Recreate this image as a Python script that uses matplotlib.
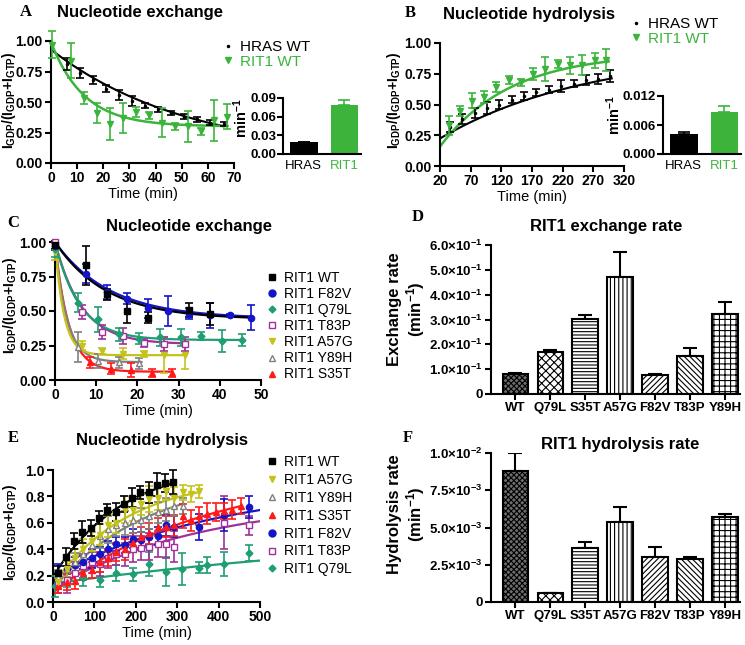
import numpy as np
import matplotlib.pyplot as plt
from matplotlib.lines import Line2D

plt.rcParams['font.family'] = ['Liberation Sans', 'DejaVu Sans']
plt.rcParams['font.weight'] = 'bold'
plt.rcParams['mathtext.fontset'] = 'custom'
plt.rcParams['mathtext.rm'] = 'Liberation Sans'
plt.rcParams['mathtext.bf'] = 'Liberation Sans:bold'
plt.rcParams['mathtext.default'] = 'bf'
plt.rcParams['hatch.linewidth'] = 0.8

# ---------------- data ----------------
GREEN = '#3cb43c'

# A: nucleotide exchange, HRAS vs RIT1
a_hras_t = [6, 11, 16, 21, 26, 31, 36, 41, 46, 51, 56, 61, 66]
a_hras_y = [0.81, 0.74, 0.68, 0.61, 0.56, 0.51, 0.47, 0.44, 0.41, 0.38, 0.36, 0.33, 0.32]
a_hras_e = [0.05, 0.04, 0.03, 0.03, 0.04, 0.04, 0.02, 0.02, 0.02, 0.02, 0.02, 0.02, 0.02]
a_rit_t = [0.5, 7.5, 12.5, 17.5, 22.5, 27.5, 32.5, 37.5, 42.5, 47.5, 52.5, 57.5, 62.5, 67.5]
a_rit_y = [0.97, 0.84, 0.53, 0.41, 0.32, 0.37, 0.42, 0.39, 0.33, 0.30, 0.30, 0.26, 0.35, 0.38]
a_rit_e = [0.11, 0.14, 0.05, 0.08, 0.13, 0.12, 0.04, 0.03, 0.12, 0.03, 0.13, 0.03, 0.17, 0.10]
# fits: start, plateau, rate, tmin, tmax
a_fit_hras = (0.93, 0.05, 0.019, 0, 66)
a_fit_rit = (0.99, 0.30, 0.079, 0, 67.5)
a_rate = [0.019, 0.079]
a_rate_err = [0.001, 0.007]

# B: nucleotide hydrolysis, HRAS vs RIT1
b_hras_t = [36, 56, 77, 97, 117, 138, 157, 177, 198, 218, 238, 258, 278, 297]
b_hras_y = [0.32, 0.38, 0.43, 0.47, 0.50, 0.54, 0.57, 0.60, 0.62, 0.65, 0.67, 0.70, 0.71, 0.73]
b_hras_e = [0.04, 0.04, 0.04, 0.05, 0.04, 0.03, 0.03, 0.03, 0.03, 0.05, 0.03, 0.04, 0.04, 0.05]
b_rit_t = [34, 53, 72, 92, 112, 132, 152, 172, 192, 213, 232, 252, 272, 291]
b_rit_y = [0.33, 0.45, 0.53, 0.56, 0.64, 0.70, 0.68, 0.75, 0.79, 0.83, 0.82, 0.82, 0.86, 0.86]
b_rit_e = [0.08, 0.04, 0.06, 0.05, 0.04, 0.03, 0.03, 0.05, 0.10, 0.03, 0.07, 0.08, 0.06, 0.09]
b_fit_hras = (0.224, 0.939, 0.0041, 20, 300)
b_fit_rit = (0.158, 0.92, 0.0087, 20, 295)
b_rate = [0.0041, 0.0087]
b_rate_err = [0.0005, 0.0013]

# C: nucleotide exchange of RIT1 mutants
c_names = ['WT', 'F82V', 'Q79L', 'T83P', 'A57G', 'Y89H', 'S35T']
c_t = {'WT': [0, 7.5, 12.5, 17.5, 22.5, 32.5, 37.5],
       'F82V': [0, 7.5, 12.5, 17.5, 22.5, 27.5, 32.5, 37.5, 42.5, 47.5],
       'Q79L': [0, 5.5, 10.5, 15.5, 20.5, 25.5, 30.5, 35.5, 40.5, 45.5],
       'T83P': [0, 6.5, 11.5, 16.5, 21.5, 26.5, 31.5],
       'A57G': [0, 6.5, 11.5, 16.5, 21.5, 26.5, 31.5],
       'Y89H': [0, 5.5, 10.5, 15.5, 20.5],
       'S35T': [8.5, 13.5, 18.5, 23.5, 28.5]}
c_y = {'WT': [0.98, 0.83, 0.62, 0.50, 0.45, 0.51, 0.48],
       'F82V': [0.97, 0.77, 0.64, 0.59, 0.52, 0.50, 0.48, 0.47, 0.47, 0.45],
       'Q79L': [0.95, 0.56, 0.44, 0.33, 0.30, 0.31, 0.31, 0.32, 0.28, 0.29],
       'T83P': [1.0, 0.49, 0.35, 0.32, 0.27, 0.26, 0.26],
       'A57G': [0.93, 0.25, 0.21, 0.19, 0.19, 0.18, 0.18],
       'Y89H': [0.97, 0.24, 0.14, 0.13, 0.12],
       'S35T': [0.13, 0.08, 0.07, 0.05, 0.05]}
c_e = {'WT': [0.03, 0.14, 0.04, 0.09, 0.04, 0.05, 0.08],
       'F82V': [0.03, 0.07, 0.05, 0.04, 0.07, 0.11, 0.04, 0.09, 0.01, 0.09],
       'Q79L': [0.06, 0.07, 0.09, 0.05, 0.04, 0.06, 0.06, 0.03, 0.08, 0.04],
       'T83P': [0.01, 0.05, 0.05, 0.06, 0.03, 0.05, 0.05],
       'A57G': [0.06, 0.03, 0.02, 0.04, 0.02, 0.13, 0.10],
       'Y89H': [0.03, 0.11, 0.05, 0.04, 0.04],
       'S35T': [0.04, 0.04, 0.05, 0.03, 0.03]}
# plateau, rate, tmax (start = 1.0)
c_fit = {'WT': (0.44, 0.08, 47.5), 'F82V': (0.445, 0.075, 47.5),
         'Q79L': (0.29, 0.17, 45.5), 'T83P': (0.26, 0.155, 31.5),
         'A57G': (0.18, 0.47, 31.5), 'Y89H': (0.13, 0.35, 21),
         'S35T': (0.06, 0.30, 28.5)}

# E: nucleotide hydrolysis of RIT1 mutants
e_names = ['WT', 'A57G', 'Y89H', 'S35T', 'F82V', 'T83P', 'Q79L']
e_t = {'WT': [11, 31, 51, 71, 91, 111, 131, 151, 171, 191, 211, 231, 251, 271, 291],
       'A57G': [13, 33, 53, 73, 93, 113, 133, 153, 173, 193, 213, 233, 253, 273, 293, 313, 333, 353],
       'Y89H': [13, 33, 53, 73, 93, 113, 133, 153, 173, 193, 213, 233, 253, 273, 293, 313],
       'S35T': [13, 33, 53, 73, 93, 113, 133, 153, 173, 193, 213, 233, 253, 273, 293, 313,
                333, 353, 373, 393, 413, 433, 453],
       'F82V': [13, 33, 53, 73, 93, 113, 133, 153, 173, 193, 213, 233, 253, 273, 293, 353, 413, 473],
       'T83P': [13, 33, 53, 73, 93, 113, 133, 153, 173, 193, 213, 233, 253, 273, 293, 413, 473],
       'Q79L': [4, 33, 73, 113, 152, 194, 232, 272, 312, 353, 373, 413, 473]}
e_y = {'WT': [0.22, 0.34, 0.46, 0.53, 0.56, 0.64, 0.70, 0.68, 0.74, 0.79, 0.83, 0.83, 0.89, 0.90, 0.91],
       'A57G': [0.15, 0.25, 0.33, 0.40, 0.46, 0.51, 0.58, 0.60, 0.70, 0.70, 0.74, 0.78, 0.79, 0.84,
                0.79, 0.83, 0.82, 0.84],
       'Y89H': [0.19, 0.25, 0.30, 0.36, 0.43, 0.50, 0.55, 0.58, 0.60, 0.62, 0.62, 0.65, 0.68, 0.70,
                0.73, 0.73],
       'S35T': [0.12, 0.15, 0.16, 0.22, 0.24, 0.30, 0.33, 0.38, 0.40, 0.45, 0.49, 0.52, 0.57, 0.57,
                0.58, 0.65, 0.62, 0.65, 0.67, 0.68, 0.69, 0.70, 0.73],
       'F82V': [0.22, 0.25, 0.28, 0.30, 0.33, 0.36, 0.40, 0.44, 0.43, 0.48, 0.47, 0.49, 0.50, 0.58,
                0.57, 0.57, 0.66, 0.72],
       'T83P': [0.15, 0.17, 0.22, 0.27, 0.30, 0.29, 0.33, 0.36, 0.36, 0.40, 0.41, 0.42, 0.44, 0.44,
                0.42, 0.60, 0.58],
       'Q79L': [0.12, 0.16, 0.18, 0.17, 0.22, 0.21, 0.29, 0.23, 0.25, 0.26, 0.28, 0.29, 0.37]}
e_e = {'WT': [0.05, 0.07, 0.06, 0.08, 0.06, 0.05, 0.04, 0.07, 0.06, 0.07, 0.05, 0.08, 0.09, 0.07, 0.09],
       'A57G': [0.05, 0.06, 0.07, 0.08, 0.07, 0.08, 0.09, 0.08, 0.10, 0.09, 0.08, 0.10, 0.09, 0.07,
                0.08, 0.06, 0.06, 0.05],
       'Y89H': [0.05, 0.06, 0.07, 0.09, 0.10, 0.09, 0.10, 0.08, 0.09, 0.10, 0.09, 0.10, 0.08, 0.09,
                0.08, 0.06],
       'S35T': [0.05, 0.06, 0.06, 0.05, 0.06, 0.07, 0.06, 0.07, 0.08, 0.07, 0.08, 0.08, 0.07, 0.08,
                0.08, 0.09, 0.08, 0.07, 0.08, 0.07, 0.06, 0.07, 0.06],
       'F82V': [0.07, 0.06, 0.06, 0.05, 0.07, 0.06, 0.06, 0.05, 0.06, 0.07, 0.06, 0.06, 0.07, 0.08,
                0.08, 0.10, 0.12, 0.08],
       'T83P': [0.08, 0.10, 0.08, 0.09, 0.08, 0.09, 0.07, 0.08, 0.09, 0.10, 0.09, 0.10, 0.10, 0.11,
                0.12, 0.20, 0.07],
       'Q79L': [0.08, 0.05, 0.06, 0.06, 0.06, 0.05, 0.09, 0.11, 0.12, 0.04, 0.06, 0.09, 0.06]}
# start, plateau, rate, tmax
e_fit = {'WT': (0.19, 1.05, 0.006, 292), 'A57G': (0.13, 0.95, 0.0055, 355),
         'Y89H': (0.10, 0.95, 0.0045, 315), 'S35T': (0.07, 1.0, 0.0027, 455),
         'F82V': (0.19, 0.9, 0.0025, 500), 'T83P': (0.10, 0.78, 0.0028, 500),
         'Q79L': (0.14, 0.6, 0.00095, 500)}

# D / F: rates per mutant
rate_names = ['WT', 'Q79L', 'S35T', 'A57G', 'F82V', 'T83P', 'Y89H']
exch_rate = [0.080, 0.170, 0.302, 0.472, 0.075, 0.155, 0.322]
exch_err = [0.006, 0.007, 0.015, 0.100, 0.004, 0.030, 0.050]
hydr_rate = [0.0088, 0.0006, 0.0036, 0.0054, 0.0030, 0.0029, 0.0057]
hydr_err = [0.0012, 0.0, 0.0004, 0.0010, 0.0007, 0.0001, 0.0002]

# ---------------- styles ----------------
c_style = {'WT': ('s', 'black', 'black'), 'F82V': ('o', '#1414c8', '#1414c8'),
           'Q79L': ('D', '#1f9e74', '#1f9e74'), 'T83P': ('s', '#a0309a', 'white'),
           'A57G': ('v', '#c3c31a', '#c3c31a'), 'Y89H': ('^', '#808080', 'white'),
           'S35T': ('^', '#ff1a1a', '#ff1a1a')}
hatches = ['xxxxxx', 'xxxx', '-----', '||||', '//////', '\\\\\\\\\\\\', '+++']
fills = ['#6e6e6e', 'white', 'white', 'white', 'white', 'white', 'white']

W, H = 745, 645
fig = plt.figure(figsize=(W / 100, H / 100), dpi=100)


def add_ax(l, r, t, b):
    return fig.add_axes([l / W, 1 - b / H, (r - l) / W, (b - t) / H])


def ftext(x, y, s, **kw):
    fig.text(x / W, 1 - y / H, s, **kw)


def style(ax, fs=10):
    for s in ['top', 'right']:
        ax.spines[s].set_visible(False)
    for s in ['left', 'bottom']:
        ax.spines[s].set_linewidth(1.5)
    ax.tick_params(width=1.5, length=4, labelsize=fs, pad=2)


def decay(p, n=200):
    y0, plat, k, t0, t1 = p
    t = np.linspace(t0, t1, n)
    return t, plat + (y0 - plat) * np.exp(-k * (t - t0 if t0 > 0 else t))


def ebar(ax, t, y, e, marker, color, mfc, ms=4.5):
    ax.errorbar(t, y, yerr=e, fmt=marker, color=color, mfc=mfc, mec=color, ms=ms,
                elinewidth=1.2, capsize=3, capthick=1.2, clip_on=False, zorder=3)


def inset(l, t, b, vals, errs, ymax, ticks, labels, lab_x, lab_y):
    axi = add_ax(l, l + 78, t, b)
    axi.bar([0, 1], vals, width=0.68, color=['black', GREEN])
    axi.errorbar([0], [vals[0]], yerr=[[0], [errs[0]]], fmt='none', ecolor='black',
                 capsize=4, elinewidth=1.2, capthick=1.2)
    axi.errorbar([1], [vals[1]], yerr=[[0], [errs[1]]], fmt='none', ecolor=GREEN,
                 capsize=4, elinewidth=1.2, capthick=1.2)
    axi.set_xlim(-0.51, 1.41)
    axi.set_ylim(0, ymax)
    axi.set_yticks(ticks)
    axi.set_yticklabels(labels)
    axi.set_xticks([0, 1])
    axi.set_xticklabels(['HRAS', 'RIT1'], fontweight='normal', fontsize=8.5)
    axi.get_xticklabels()[1].set_color(GREEN)
    style(axi, 9.5)
    axi.tick_params(axis='x', length=0, pad=4)
    axi.tick_params(axis='y', pad=1)
    ftext(lab_x, lab_y, 'min$^{-1}$', rotation=90, ha='center', va='center', fontsize=10.5)


ylab = 'I$_{GDP}$/(I$_{GDP}$+I$_{GTP}$)'
handles = [Line2D([], [], marker='.', color='black', ls='none', ms=3),
           Line2D([], [], marker='v', color=GREEN, ls='none', ms=4)]

# ---------------- panel A ----------------
ax = add_ax(51, 234, 41, 163)
ebar(ax, a_hras_t, a_hras_y, a_hras_e, '.', 'black', 'black', 3)
ebar(ax, a_rit_t, a_rit_y, a_rit_e, 'v', GREEN, GREEN, 4)
t, y = decay(a_fit_hras)
ax.plot(t, y, color='black', lw=1.5)
t, y = decay(a_fit_rit)
ax.plot(t, y, color=GREEN, lw=1.8)
ax.set_xlim(0, 70)
ax.set_ylim(0, 1.0)
ax.set_xticks(range(0, 71, 10))
ax.set_yticks([0, 0.25, 0.5, 0.75, 1.0])
ax.set_yticklabels(['0.00', '0.25', '0.50', '0.75', '1.00'])
ax.set_xlabel('Time (min)', fontsize=10.5, labelpad=1)
style(ax)
ftext(9, 100, ylab, rotation=90, ha='center', va='center', fontsize=10)
fig.legend(handles, ['HRAS WT', 'RIT1 WT'], loc='upper left', bbox_to_anchor=(222 / W, 1 - 40 / H),
           frameon=False, prop={'weight': 'normal', 'size': 11}, handlelength=0.8,
           handletextpad=0.4, labelspacing=0.05, borderpad=0, borderaxespad=0,
           labelcolor=['black', GREEN])
inset(283, 98, 154, a_rate, a_rate_err, 0.09, [0, 0.03, 0.06, 0.09],
      ['0.00', '0.03', '0.06', '0.09'], 241, 118)

# ---------------- panel B ----------------
ax = add_ax(440, 624, 43, 166)
ebar(ax, b_hras_t, b_hras_y, b_hras_e, '.', 'black', 'black', 3)
ebar(ax, b_rit_t, b_rit_y, b_rit_e, 'v', GREEN, GREEN, 4)
t, y = decay(b_fit_hras)
ax.plot(t, y, color='black', lw=1.5)
t, y = decay(b_fit_rit)
ax.plot(t, y, color=GREEN, lw=1.8)
ax.set_xlim(20, 320)
ax.set_ylim(0, 1.0)
ax.set_xticks(range(20, 321, 50))
ax.set_yticks([0, 0.25, 0.5, 0.75, 1.0])
ax.set_yticklabels(['0.00', '0.25', '0.50', '0.75', '1.00'])
ax.set_xlabel('Time (min)', fontsize=10.5, labelpad=1)
style(ax)
ftext(394, 100, ylab, rotation=90, ha='center', va='center', fontsize=10)
fig.legend(handles, ['HRAS WT', 'RIT1 WT'], loc='upper left', bbox_to_anchor=(630 / W, 1 - 17 / H),
           frameon=False, prop={'weight': 'normal', 'size': 11}, handlelength=0.8,
           handletextpad=0.4, labelspacing=0.05, borderpad=0, borderaxespad=0,
           labelcolor=['black', GREEN])
inset(663, 96, 154, b_rate, b_rate_err, 0.012, [0, 0.006, 0.012],
      ['0.000', '0.006', '0.012'], 614, 115)

# ---------------- panel C ----------------
ax = add_ax(55, 261, 242, 380)
for name in reversed(c_names):
    m, col, mfc = c_style[name]
    plat, k, t1 = c_fit[name]
    t = np.linspace(0, t1, 200)
    ax.plot(t, plat + (1 - plat) * np.exp(-k * t), color=col, lw=1.6, zorder=2)
    ebar(ax, c_t[name], c_y[name], c_e[name], m, col, mfc, 3.5 if m == 'D' else 4.5)
ax.set_xlim(0, 50)
ax.set_ylim(0, 1.0)
ax.set_xticks(range(0, 51, 10))
ax.set_yticks([0, 0.25, 0.5, 0.75, 1.0])
ax.set_yticklabels(['0.00', '0.25', '0.50', '0.75', '1.00'])
ax.set_xlabel('Time (min)', fontsize=10.5, labelpad=1)
style(ax)
ftext(10, 305, ylab, rotation=90, ha='center', va='center', fontsize=10)
hc = [Line2D([], [], marker=c_style[n][0], color=c_style[n][1], mfc=c_style[n][2], ls='none',
             ms=3.5 if c_style[n][0] == 'D' else 5) for n in c_names]
fig.legend(hc, ['RIT1 ' + n for n in c_names], loc='upper left',
           bbox_to_anchor=(266 / W, 1 - 271 / H), frameon=False,
           prop={'weight': 'normal', 'size': 10}, handlelength=0.8, handletextpad=0.5,
           labelspacing=0.15, borderpad=0, borderaxespad=0)

# ---------------- panel E ----------------
ax = add_ax(53, 260, 470, 602)
for name in reversed(e_names):
    m, col, mfc = c_style[name]
    y0, plat, k, t1 = e_fit[name]
    t = np.linspace(0, t1, 200)
    ax.plot(t, plat + (y0 - plat) * np.exp(-k * t), color=col, lw=1.6, zorder=2)
    ebar(ax, e_t[name], e_y[name], e_e[name], m, col, mfc, 3.5 if m == 'D' else 4.5)
ax.set_xlim(0, 500)
ax.set_ylim(0, 1.0)
ax.set_xticks(range(0, 501, 100))
ax.set_yticks(np.arange(0, 1.01, 0.2))
ax.set_yticklabels(['0.0', '0.2', '0.4', '0.6', '0.8', '1.0'])
ax.set_xlabel('Time (min)', fontsize=10.5, labelpad=1)
style(ax)
ftext(10, 532, ylab, rotation=90, ha='center', va='center', fontsize=10)
he = [Line2D([], [], marker=c_style[n][0], color=c_style[n][1], mfc=c_style[n][2], ls='none',
             ms=3.5 if c_style[n][0] == 'D' else 5) for n in e_names]
fig.legend(he, ['RIT1 ' + n for n in e_names], loc='upper left',
           bbox_to_anchor=(266 / W, 1 - 455 / H), frameon=False,
           prop={'weight': 'normal', 'size': 10}, handlelength=0.8, handletextpad=0.5,
           labelspacing=0.28, borderpad=0, borderaxespad=0)


# ---------------- panels D and F ----------------
def rate_panel(ax, vals, errs, ymax, ticks, labels):
    x = np.arange(len(rate_names))
    for i in range(len(vals)):
        ax.bar(x[i], vals[i], width=0.72, color=fills[i], edgecolor='black', linewidth=1.5,
               hatch=hatches[i], zorder=2)
    ax.errorbar(x, vals, yerr=[np.zeros(len(errs)), errs], fmt='none', ecolor='black',
                capsize=5, elinewidth=1.5, capthick=1.5, zorder=1)
    ax.set_xlim(-0.69, 6.43)
    ax.set_ylim(0, ymax)
    ax.set_xticks(x)
    ax.set_xticklabels(rate_names, fontsize=9.5)
    ax.set_yticks(ticks)
    ax.set_yticklabels(labels)
    style(ax, 9.5)


ax = add_ax(491, 740, 245, 394)
rate_panel(ax, exch_rate, exch_err, 0.6, [0, 0.1, 0.2, 0.3, 0.4, 0.5, 0.6],
           ['0'] + ['%.1f×10$^{-1}$' % v for v in [1, 2, 3, 4, 5, 6]])
ftext(407, 309, 'Exchange rate\n(min$^{-1}$)', rotation=90, ha='center', va='center',
      fontsize=12, linespacing=1.1)

ax = add_ax(491, 740, 453, 602)
rate_panel(ax, hydr_rate, hydr_err, 0.01, [0, 0.0025, 0.005, 0.0075, 0.01],
           ['0', '2.5×10$^{-3}$', '5.0×10$^{-3}$', '7.5×10$^{-3}$', '1.0×10$^{-2}$'])
ftext(407, 514, 'Hydrolysis rate\n(min$^{-1}$)', rotation=90, ha='center', va='center',
      fontsize=12, linespacing=1.1)

# ---------------- titles and panel letters ----------------
titles = [(140, 12, 'Nucleotide exchange'), (529, 14, 'Nucleotide hydrolysis'),
          (189, 227, 'Nucleotide exchange'), (606, 227, 'RIT1 exchange rate'),
          (162, 441, 'Nucleotide hydrolysis'), (620, 444, 'RIT1 hydrolysis rate')]
for x, y, s in titles:
    ftext(x, y, s, ha='center', va='center', fontsize=12)
letters = [(26, 12, 'A'), (410, 13, 'B'), (13, 223, 'C'), (418, 217, 'D'),
           (13, 438, 'E'), (408, 438, 'F')]
for x, y, s in letters:
    ftext(x, y, s, ha='center', va='center', fontsize=12, family='Liberation Serif')

fig.savefig('out.png', dpi=100)
